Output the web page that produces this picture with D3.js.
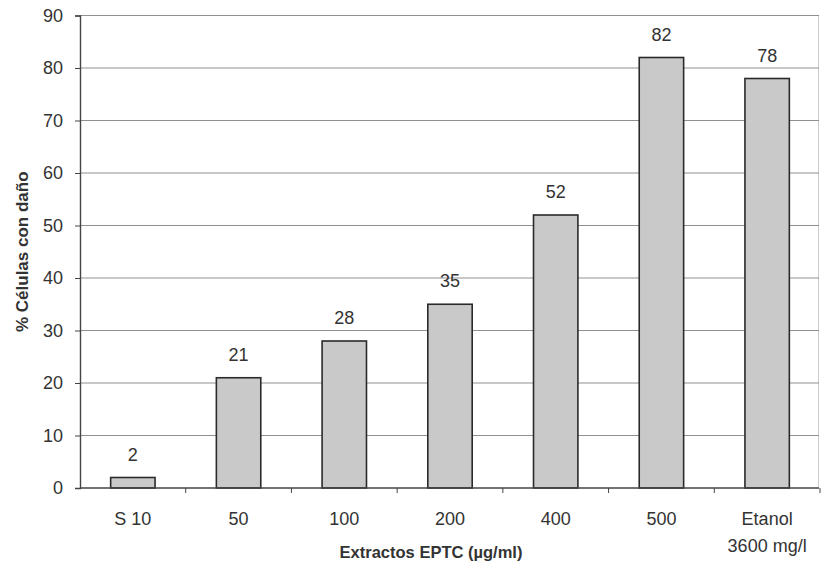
<!DOCTYPE html>
<html>
<head>
<meta charset="utf-8">
<script src="https://cdn.jsdelivr.net/npm/d3@7"></script>
<style>
  html, body { margin: 0; padding: 0; background: #fff; }
  svg { display: block; }
  text { font-family: "Liberation Sans", Arial, sans-serif; fill: #333; }
</style>
</head>
<body>
<svg id="chart" width="821" height="572"></svg>
<script>
// Percentage of damaged cells per treatment
const categories = ["S 10", "50", "100", "200", "400", "500", "Etanol\n3600 mg/l"];
const values = [2, 21, 28, 35, 52, 82, 78];
const yTicks = [0, 10, 20, 30, 40, 50, 60, 70, 80, 90];

const W = 821, H = 572;
const margin = { left: 80, right: 1, top: 15.5, bottom: 84 };
const FONT = "Liberation Sans, Arial, sans-serif";
const svg = d3.select("#chart");

const x = d3.scaleBand()
  .domain(categories)
  .range([margin.left, W - margin.right])
  .paddingInner(0.58)
  .paddingOuter(0.29);

const y = d3.scaleLinear()
  .domain([0, 90])
  .range([H - margin.bottom, margin.top]);

// horizontal gridlines
svg.append("g")
  .selectAll("line")
  .data(yTicks.filter(d => d > 0))
  .join("line")
  .attr("x1", margin.left)
  .attr("x2", W - margin.right - 1)
  .attr("y1", d => y(d))
  .attr("y2", d => y(d))
  .attr("stroke", "#909090")
  .attr("stroke-width", 1);

// right border of plot area (dotted)
svg.append("line")
  .attr("x1", W - margin.right - 1.5).attr("x2", W - margin.right - 1.5)
  .attr("y1", y(90)).attr("y2", y(0))
  .attr("stroke", "#999")
  .attr("stroke-dasharray", "1,1");

// bars
svg.append("g")
  .selectAll("rect")
  .data(values)
  .join("rect")
  .attr("x", (d, i) => x(categories[i]))
  .attr("width", x.bandwidth())
  .attr("y", d => y(d))
  .attr("height", d => y(0) - y(d))
  .attr("fill", "#c9c9c9")
  .attr("stroke", "#2a2a2a")
  .attr("stroke-width", 1.6);

// value labels
svg.append("g")
  .selectAll("text")
  .data(values)
  .join("text")
  .attr("x", (d, i) => x(categories[i]) + x.bandwidth() / 2)
  .attr("y", d => y(d) - 17)
  .attr("text-anchor", "middle")
  .attr("font-size", 18)
  .text(d => d);

// y axis
const yAxis = svg.append("g")
  .attr("transform", `translate(${margin.left},0)`)
  .call(d3.axisLeft(y).tickValues(yTicks).tickSize(5).tickPadding(12));
yAxis.select(".domain").attr("stroke", "#444").attr("stroke-width", 1.4);
yAxis.selectAll(".tick line").attr("stroke", "#444");
yAxis.selectAll(".tick text")
  .attr("font-size", 18)
  .attr("font-family", FONT)
  .attr("fill", "#333");

// x axis: baseline plus ticks at category boundaries
const step = x.step();
const xg = svg.append("g");
xg.append("line")
  .attr("x1", margin.left).attr("x2", W - margin.right - 1)
  .attr("y1", y(0)).attr("y2", y(0))
  .attr("stroke", "#444").attr("stroke-width", 1.4);
xg.selectAll("line.tk")
  .data(d3.range(1, categories.length + 1))
  .join("line")
  .attr("class", "tk")
  .attr("x1", i => margin.left + i * step)
  .attr("x2", i => margin.left + i * step)
  .attr("y1", y(0)).attr("y2", y(0) + 5)
  .attr("stroke", "#444");

// category labels (multi-line where needed)
xg.selectAll("text")
  .data(categories)
  .join("text")
  .attr("x", d => x(d) + x.bandwidth() / 2)
  .attr("y", y(0) + 36.5)
  .attr("text-anchor", "middle")
  .attr("font-size", 18)
  .each(function (d) {
    const lines = d.split("\n");
    d3.select(this).selectAll("tspan")
      .data(lines)
      .join("tspan")
      .attr("x", x(d) + x.bandwidth() / 2)
      .attr("dy", (l, i) => i === 0 ? 0 : 27)
      .text(l => l);
  });

// axis titles
svg.append("text")
  .attr("transform", `translate(28,${(y(0) + y(90)) / 2}) rotate(-90)`)
  .attr("text-anchor", "middle")
  .attr("font-size", 17)
  .attr("font-weight", "bold")
  .text("% Células con daño");

svg.append("text")
  .attr("x", 431)
  .attr("y", 558)
  .attr("text-anchor", "middle")
  .attr("font-size", 16.5)
  .attr("font-weight", "bold")
  .text("Extractos EPTC (µg/ml)");
</script>
</body>
</html>
